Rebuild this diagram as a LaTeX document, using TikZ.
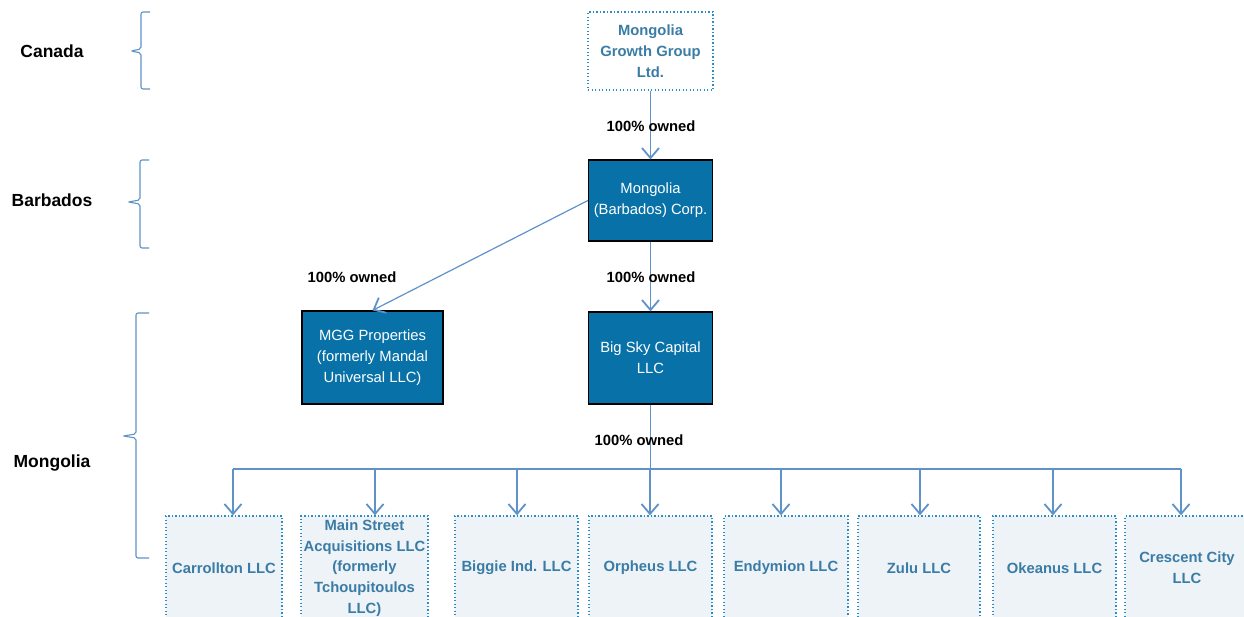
\documentclass[tikz,border=0pt]{standalone}
\usepackage{fontspec}
\setmainfont{Liberation Sans}
\usetikzlibrary{arrows.meta}
\usetikzlibrary{positioning}

\definecolor{boxblue}{HTML}{0872A8}
\definecolor{dotblue}{HTML}{2C8CC4}
\definecolor{txtblue}{HTML}{3A7CA5}
\definecolor{paleblue}{HTML}{EEF3F7}
\definecolor{linkblue}{HTML}{5E92C8}

\newcommand\chartfont{\fontsize{14.8}{20.8}\selectfont}

\tikzset{
    ownbox/.style={draw=black, line width=1.2pt, fill=boxblue, text=white,
        font=\chartfont, align=center, minimum height=81pt, inner sep=2pt},
    dotbox/.style={draw=dotblue, line width=1.3pt, dash pattern=on 1.4pt off 2.1pt,
        text=txtblue, font=\chartfont\bfseries, align=center, inner sep=2pt},
    subbox/.style={dotbox, fill=paleblue, minimum height=104pt},
    owned/.style={font=\chartfont\bfseries, text=black},
    jurlabel/.style={font=\bfseries\fontsize{17.5}{20}\selectfont, text=black},
    link/.style={draw=linkblue, line width=1.2pt, -{Straight Barb[length=10pt,width=17pt,line width=1.8pt]}},
    bus/.style={draw=linkblue, line width=1.2pt},
    jurbrace/.style={draw=linkblue, line width=1.1pt, rounded corners=2pt},
}

\begin{document}
\begin{tikzpicture}[x=1pt,y=-1pt]
    \useasboundingbox (0,0) rectangle (1244,616);
    \clip (0,0) rectangle (1244,616);
    % companies
    \node[dotbox, minimum width=125pt, minimum height=78pt] (mgg) at (650.5,51) {Mongolia\\Growth Group\\Ltd.};
    \node[ownbox, minimum width=124pt] (barb) at (650.5,200.5) {Mongolia\\(Barbados) Corp.};
    \node[ownbox, minimum width=141pt, minimum height=93pt] (prop) at (372.5,357.5) {MGG Properties\\(formerly Mandal\\Universal LLC)};
    \node[ownbox, minimum width=124pt, minimum height=92pt] (bsc) at (650.5,358) {Big Sky Capital\\LLC};

    % ownership links
    \draw[link] (mgg) -- (barb);
    \node[owned] (own1) at (651,126) {100\% owned};
    \draw[link] (barb) -- (bsc);
    \node[owned] (own2) at (651,277) {100\% owned};
    \draw[link] (barb.west) -- (prop.north);
    \node[owned] (own3) at (352,277) {100\% owned};

    % subsidiaries of Big Sky
    \coordinate (hub) at (650.5,469);
    \draw[bus] (bsc.south) -- (hub);
    \draw[bus] (233,469) -- (1181,469);
    \node[owned] (own4) at (639,440) {100\% owned};
    \foreach \n/\cx/\w/\ax/\t in {
        carr/224/116/233/{Carrollton LLC},
        main/364.5/127/375/{Main Street\\Acquisitions LLC\\(formerly\\Tchoupitoulos\\LLC)},
        biggie/516.5/123/517/{Biggie Ind. LLC},
        orph/650.5/123/650/{Orpheus LLC},
        endy/786/124/781/{Endymion LLC},
        zulu/919/122/920/{Zulu LLC},
        okea/1054.5/123/1053/{Okeanus LLC},
        cresc/1187/124/1181/{Crescent City\\LLC}}
    {
        \node[subbox, minimum width=\w pt] (\n) at (\cx,568) {\t};
        \draw[link] (\ax,469) -- (\ax,0 |- \n.north);
    }

    % jurisdictions
    \node[jurlabel] (can) at (52,51) {Canada};
    \node[jurlabel] (bds) at (52,200) {Barbados};
    \node[jurlabel] (mng) at (52,463) {Mongolia};
    \draw[jurbrace] (150,12) -- (141,12) -- (141,49) -- (131,51) -- (141,53) -- (141,89) -- (150,89);
    \draw[jurbrace] (149,160) -- (140,160) -- (140,200) -- (128,202) -- (140,204) -- (140,248) -- (149,248);
    \draw[jurbrace] (149,313) -- (136,313) -- (136,434) -- (123,436) -- (136,438) -- (136,558) -- (149,558);
\end{tikzpicture}
\end{document}
